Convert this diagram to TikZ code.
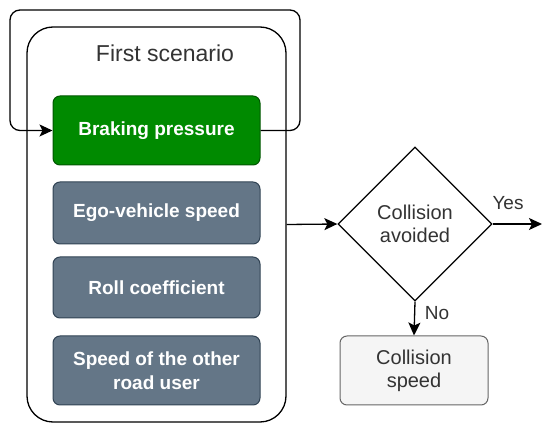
\documentclass[tikz,border=0pt]{standalone}
\usepackage{fontspec}
\setmainfont{Liberation Sans}
\usetikzlibrary{shapes.geometric,arrows.meta}
\definecolor{greenfill}{HTML}{008A00}
\definecolor{greenline}{HTML}{005700}
\definecolor{slatefill}{HTML}{647687}
\definecolor{slateline}{HTML}{314354}
\definecolor{greyfill}{HTML}{F5F5F5}
\definecolor{greyline}{HTML}{666666}
\definecolor{greytext}{HTML}{333333}
\begin{document}
\begin{tikzpicture}[x=1pt,y=-1pt]
\tikzstyle{scen_style} = [draw=black, line width=1.3, rounded corners=26, minimum width=259, minimum height=395, inner sep=0]
\tikzstyle{node_style1} = [draw=greenline, fill=greenfill, text=white, line width=1, rounded corners=7, minimum width=207, inner sep=0, align=center, font=\fontsize{19}{24}\selectfont\bfseries]
\tikzstyle{node_style2} = [draw=slateline, fill=slatefill, text=white, line width=1, rounded corners=7, minimum width=207, inner sep=0, align=center, font=\fontsize{19}{24}\selectfont\bfseries]
\tikzstyle{node_style3} = [draw=greyline, fill=greyfill, text=greytext, line width=1, rounded corners=7, minimum width=148, minimum height=69, inner sep=0, align=center, font=\fontsize{20}{23}\selectfont]
\tikzstyle{dec_style} = [diamond, draw=black, line width=1.3, minimum width=154, minimum height=154, aspect=1, inner sep=0, align=center, text=greytext, font=\fontsize{20}{23}\selectfont]
\tikzstyle{label_style} = [text=greytext, font=\fontsize{19}{23}\selectfont]
\tikzstyle{edge_style1} = [black, line width=1.3, -{Stealth[length=13pt,width=12pt,inset=3pt]}]
\tikzstyle{edge_style2} = [black, line width=1.3, rounded corners=10, -{Stealth[length=13pt,width=12pt,inset=3pt]}]
\useasboundingbox (0,0) rectangle (550,433);

    \node[scen_style] (scen) at (156.5,224.5) {};
    \node[text=greytext, font=\fontsize{23}{27}\selectfont] (title) at (165,53) {First scenario};

    \node[node_style1, minimum height=69] (brake) at (156.5,130.5) {Braking pressure};
    \node[node_style2, minimum height=62] (ego) at (156.5,213) {Ego-vehicle speed};
    \node[node_style2, minimum height=61] (roll) at (156.5,287.5) {Roll coefficient};
    \node[node_style2, minimum height=69] (other) at (156.5,370.5) {Speed of the other\\road user};

    \node[dec_style] (avoid) at (415,224) {Collision\\avoided};
    \node[node_style3] (crash) at (414,370.5) {Collision\\speed};

    \coordinate (loop_ne) at (300,10);
    \coordinate (loop_nw) at (10,10);
    \coordinate (yes_end) at (542,224);

    \draw[edge_style2] (brake.east) -| (loop_ne) -- (loop_nw) |- (brake.west);
    \draw[edge_style1] (scen.east) -- (avoid.west);
    \draw[edge_style1] (avoid.east) -- (yes_end);
    \draw[edge_style1] (avoid.south) -- (crash.north);

    \node[label_style] (yes) at (508,203) {Yes};
    \node[label_style] (no) at (437,313) {No};
\end{tikzpicture}
\end{document}
